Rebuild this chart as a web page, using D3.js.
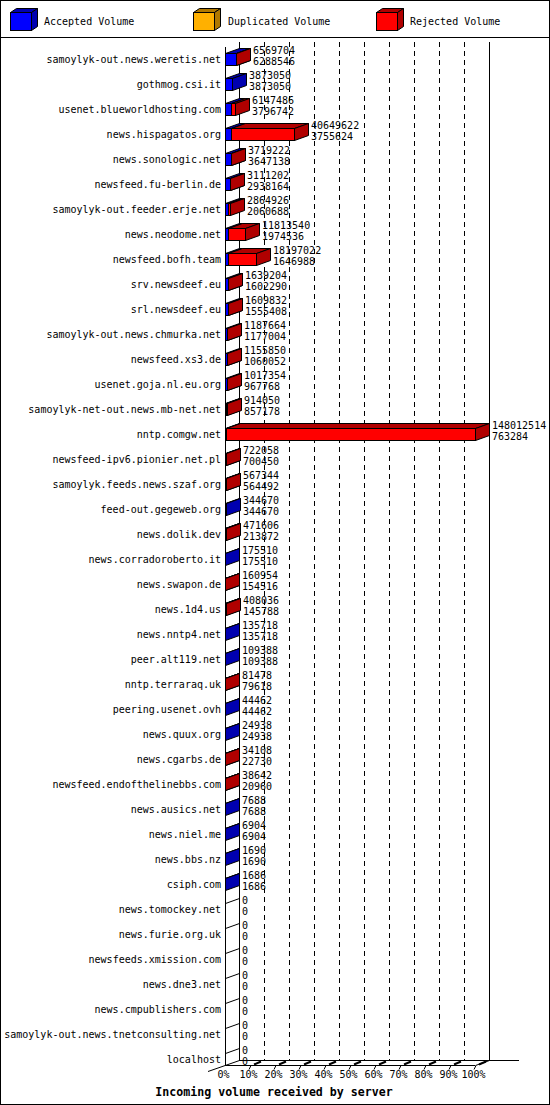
<!DOCTYPE html>
<html><head><meta charset="utf-8">
<script src="https://cdn.jsdelivr.net/npm/d3@7"></script>
<style>
body{margin:0;background:#fff}
svg{display:block}
text{font-family:"DejaVu Sans Mono","Liberation Mono",monospace;font-size:10px;fill:#000}
</style>
</head><body>
<svg id="chart" width="550" height="1105"></svg>
<script>
const categories = [
  "samoylyk-out.news.weretis.net","gothmog.csi.it","usenet.blueworldhosting.com","news.hispagatos.org",
  "news.sonologic.net","newsfeed.fu-berlin.de","samoylyk-out.feeder.erje.net","news.neodome.net",
  "newsfeed.bofh.team","srv.newsdeef.eu","srl.newsdeef.eu","samoylyk-out.news.chmurka.net",
  "newsfeed.xs3.de","usenet.goja.nl.eu.org","samoylyk-net-out.news.mb-net.net","nntp.comgw.net",
  "newsfeed-ipv6.pionier.net.pl","samoylyk.feeds.news.szaf.org","feed-out.gegeweb.org","news.dolik.dev",
  "news.corradoroberto.it","news.swapon.de","news.1d4.us","news.nntp4.net",
  "peer.alt119.net","nntp.terraraq.uk","peering.usenet.ovh","news.quux.org",
  "news.cgarbs.de","newsfeed.endofthelinebbs.com","news.ausics.net","news.niel.me",
  "news.bbs.nz","csiph.com","news.tomockey.net","news.furie.org.uk",
  "newsfeeds.xmission.com","news.dne3.net","news.cmpublishers.com","samoylyk-out.news.tnetconsulting.net",
  "localhost"
];
const totalVolume = [
  6569704,3873050,6147486,40649622,
  3719222,3111202,2864926,11813540,
  18197022,1639204,1609832,1187664,
  1155850,1017354,914050,148012514,
  722058,567344,344670,471606,
  175510,160954,408036,135718,
  109388,81478,44462,24938,
  34108,38642,7688,6904,
  1690,1686,0,0,
  0,0,0,0,
  0
];
const acceptedVolume = [
  6288546,3873050,3796742,3755624,
  3647138,2938164,2060688,1974536,
  1646988,1602290,1555408,1177004,
  1060052,967768,857178,763284,
  700450,564492,344670,213872,
  175510,154516,145788,135718,
  109388,79618,44462,24938,
  22730,20960,7688,6904,
  1690,1686,0,0,
  0,0,0,0,
  0
];
const duplicatedVolume = [
  0,0,0,0, 0,0,0,0, 0,0,0,0, 0,0,0,0, 0,0,0,0,
  0,0,0,0, 0,0,0,0, 0,0,0,0, 0,0,0,0, 0,0,0,0, 0
];
const seriesNames = ["Accepted Volume","Duplicated Volume","Rejected Volume"];
const seriesColors = ["#0000ff","#ffb000","#ff0000"];
const seriesSideColors = ["#0000b0","#b07800","#b00000"];
const percentTicks = [0,10,20,30,40,50,60,70,80,90,100];
const axisTitle = "Incoming volume received by server";

const svg = d3.select("#chart");
const W = 550, H = 1105;
const DX = 14, DY = 5;
const X0 = 225, X1 = 475, TOP = 42, FLOOR = 1065;

const x = d3.scaleLinear().domain([0, d3.max(totalVolume)]).range([X0, X1]);
const pct = d3.scaleLinear().domain([0, 100]).range([X0, X1]);
const y = d3.scalePoint().domain(categories).range([59, 1059]);

const poly = (pts) => pts.map(p => p.join(",")).join(" ");

// frame
svg.append("rect").attr("x",0.5).attr("y",0.5).attr("width",W-1).attr("height",H-1)
  .attr("fill","#fff").attr("stroke","#000");
svg.append("line").attr("x1",0).attr("x2",W).attr("y1",37.5).attr("y2",37.5).attr("stroke","#000");

// legend
const legX = [10, 193, 376], legTX = [44, 228, 410];
seriesNames.forEach((name, i) => {
  const lx = legX[i] + 0.5, fy = 12.5, fw = 21, fh = 18, d = 6, dv = 4;
  const g = svg.append("g");
  g.append("polygon").attr("points", poly([[lx,fy],[lx+fw,fy],[lx+fw+d,fy-dv],[lx+d,fy-dv]]))
    .attr("fill", seriesSideColors[i]).attr("stroke","#000");
  g.append("polygon").attr("points", poly([[lx+fw,fy],[lx+fw+d,fy-dv],[lx+fw+d,fy+fh-dv],[lx+fw,fy+fh]]))
    .attr("fill", seriesSideColors[i]).attr("stroke","#000");
  g.append("rect").attr("x",lx).attr("y",fy).attr("width",fw).attr("height",fh)
    .attr("fill", seriesColors[i]).attr("stroke","#000");
  g.append("text").attr("x", legTX[i]).attr("y", 25).text(name);
});

// back plane lines
const back = svg.append("g").attr("shape-rendering","crispEdges");
back.append("line").attr("x1",X0+DX+0.5).attr("x2",X0+DX+0.5).attr("y1",TOP).attr("y2",FLOOR-DY)
  .attr("stroke","#000");
back.append("line").attr("x1",X1+DX+0.5).attr("x2",X1+DX+0.5).attr("y1",TOP).attr("y2",FLOOR-DY)
  .attr("stroke","#000");
back.selectAll("line.grid").data(percentTicks.slice(1, -1)).join("line").attr("class","grid")
  .attr("x1", d => pct(d)+DX+0.5).attr("x2", d => pct(d)+DX+0.5)
  .attr("y1", TOP).attr("y2", FLOOR-DY)
  .attr("stroke","#000").attr("stroke-dasharray","5,4");

// floor
const fl = svg.append("g");
fl.append("line").attr("x1",X0+DX).attr("x2",X1+DX+30).attr("y1",FLOOR-DY+0.5).attr("y2",FLOOR-DY+0.5)
  .attr("stroke","#000").attr("shape-rendering","crispEdges");
fl.append("line").attr("x1",X0).attr("x2",X1).attr("y1",FLOOR+0.5).attr("y2",FLOOR+0.5)
  .attr("stroke","#000").attr("shape-rendering","crispEdges");
fl.append("line").attr("x1",X0-17).attr("y1",FLOOR+6.5).attr("x2",X0+DX+0.5).attr("y2",FLOOR-DY+0.5)
  .attr("stroke","#000");
fl.append("line").attr("x1",X1+0.5).attr("y1",FLOOR+0.5).attr("x2",X1+DX+0.5).attr("y2",FLOOR-DY+0.5)
  .attr("stroke","#000");
fl.selectAll("line.tk").data(percentTicks.slice(1)).join("line").attr("class","tk")
  .attr("x1", d => pct(d)-1).attr("y1", FLOOR+4.5).attr("x2", d => pct(d)+1).attr("y2", FLOOR+0.5)
  .attr("stroke","#000");
fl.selectAll("line.tk2").data(percentTicks.slice(1)).join("line").attr("class","tk2")
  .attr("x1", d => pct(d)+4).attr("y1", FLOOR-0.5).attr("x2", d => pct(d)+11).attr("y2", FLOOR-3.5)
  .attr("stroke","#000").attr("stroke-width",2);

// front-left axis
svg.append("line").attr("x1",X0+0.5).attr("x2",X0+0.5).attr("y1",TOP+5).attr("y2",FLOOR)
  .attr("stroke","#000").attr("shape-rendering","crispEdges");

// bars
const rows = categories.map((c, i) => {
  const vals = [acceptedVolume[i], duplicatedVolume[i], totalVolume[i]-acceptedVolume[i]-duplicatedVolume[i]];
  let acc = 0;
  const segs = [];
  vals.forEach((v, k) => {
    if (v > 0) { segs.push({k, a: acc, b: acc + v}); }
    acc += v;
  });
  return {c, i, segs, total: totalVolume[i]};
});

const bars = svg.append("g");
rows.forEach(r => {
  const cy = y(r.c);
  const yt = cy - 6 + 0.5, yb = cy + 6 + 0.5;
  const g = bars.append("g");
  if (r.segs.length === 0) {
    g.append("line").attr("x1", X0+0.5).attr("y1", yt).attr("x2", X0+DX+0.5).attr("y2", yt-DY)
      .attr("stroke","#000");
    return;
  }
  r.segs.forEach(s => {
    const xa = Math.round(x(s.a)) + 0.5, xb = Math.round(x(s.b)) + 0.5;
    g.append("polygon").attr("points", poly([[xa,yt],[xb,yt],[xb+DX,yt-DY],[xa+DX,yt-DY]]))
      .attr("fill", seriesSideColors[s.k]).attr("stroke","#000");
    g.append("polygon").attr("points", poly([[xb,yt],[xb+DX,yt-DY],[xb+DX,yb-DY],[xb,yb]]))
      .attr("fill", seriesSideColors[s.k]).attr("stroke","#000");
    if (xb - xa >= 1) {
      g.append("rect").attr("x", xa).attr("y", yt).attr("width", xb-xa).attr("height", yb-yt)
        .attr("fill", seriesColors[s.k]).attr("stroke","#000");
    }
  });
});

// value labels
const vl = svg.append("g");
rows.forEach(r => {
  const cy = y(r.c);
  const tx = Math.round(x(r.total)) + DX + 3;
  vl.append("text").attr("x", tx).attr("y", cy - 5).text(totalVolume[r.i]);
  vl.append("text").attr("x", tx).attr("y", cy + 6).text(acceptedVolume[r.i]);
});

// category labels
svg.append("g").selectAll("text").data(categories).join("text")
  .attr("x", 221).attr("y", d => y(d) + 4).attr("text-anchor","end").text(d => d);

// x axis labels
const ax = svg.append("g").attr("transform", `translate(-2,${FLOOR+3})`)
  .call(d3.axisBottom(pct).tickValues(percentTicks).tickFormat(d => d + "%").tickSize(0).tickPadding(3));
ax.select(".domain").remove();

// title
svg.append("text").attr("x", 274).attr("y", 1096).attr("text-anchor","middle")
  .style("font-weight","bold").style("font-size","11.6px").text(axisTitle);
</script>
</body></html>
